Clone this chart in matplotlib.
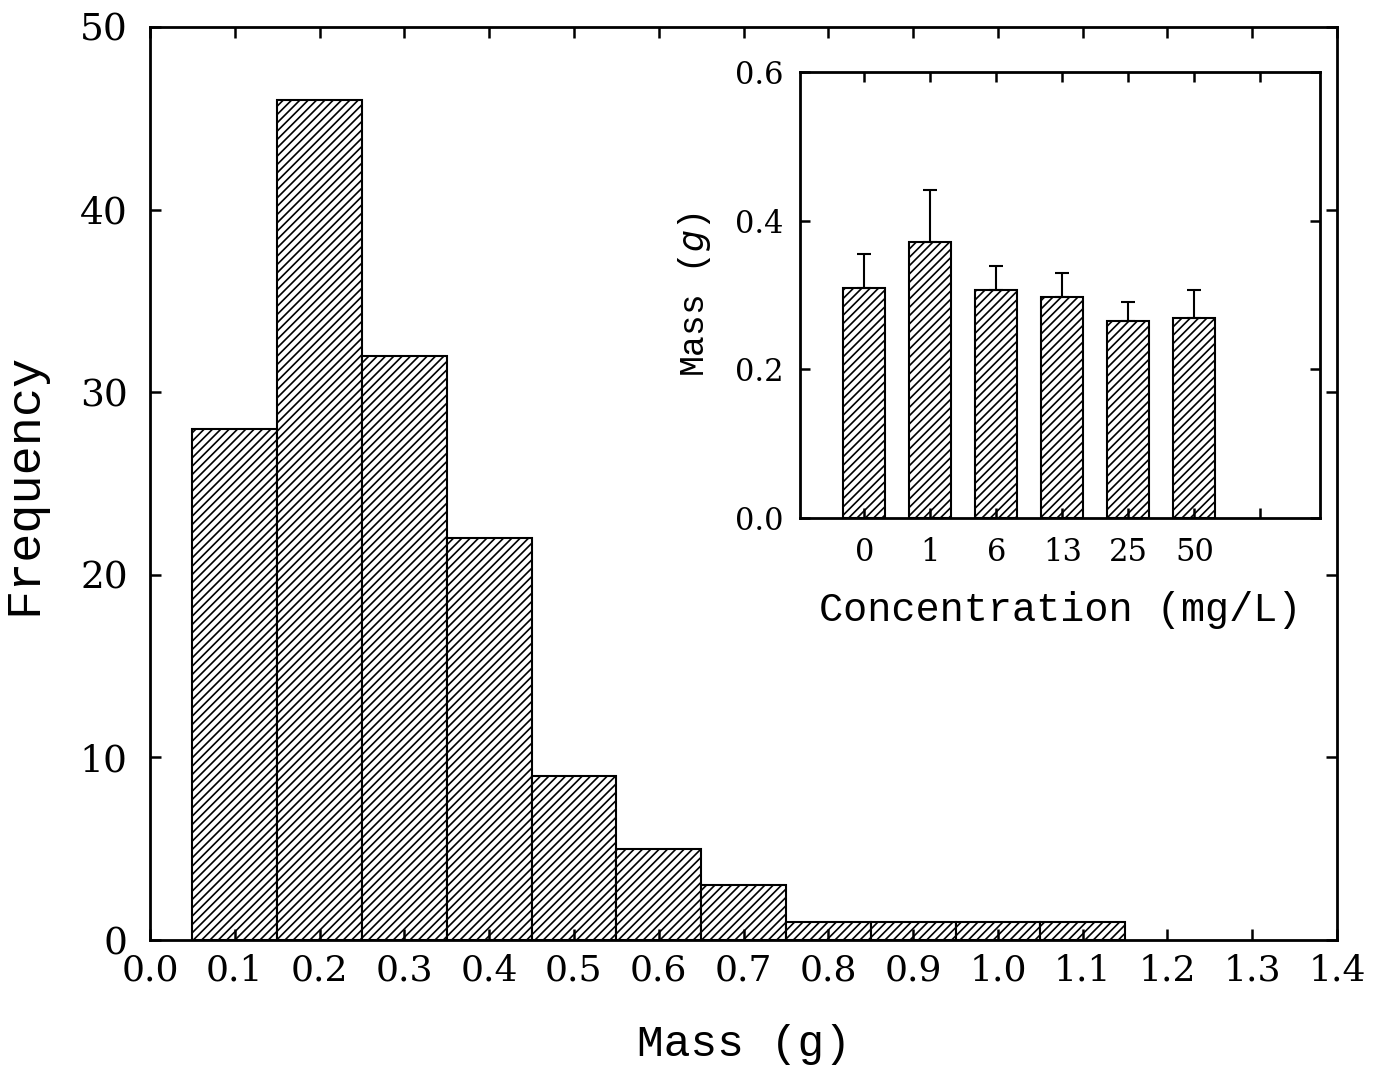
import matplotlib
matplotlib.use("Agg")
import matplotlib.pyplot as plt
import numpy as np

# Histogram data (main panel)
bin_centers = [0.1, 0.2, 0.3, 0.4, 0.5, 0.6, 0.7, 0.8, 0.9, 1.0, 1.1]
frequency = [28, 46, 32, 22, 9, 5, 3, 1, 1, 1, 1]
main_xticks = [0.0, 0.1, 0.2, 0.3, 0.4, 0.5, 0.6, 0.7, 0.8, 0.9, 1.0, 1.1, 1.2, 1.3, 1.4]
main_yticks = [0, 10, 20, 30, 40, 50]

# Inset data
conc_labels = ["0", "1", "6", "13", "25", "50"]
mass_mean = [0.310, 0.371, 0.307, 0.297, 0.265, 0.269]
mass_err = [0.045, 0.070, 0.032, 0.033, 0.026, 0.038]
inset_yticks = [0.0, 0.2, 0.4, 0.6]

plt.rcParams['hatch.linewidth'] = 1.2
tick_font = "DejaVu Serif"
label_font = "Liberation Mono"

fig = plt.figure(figsize=(13.82, 10.78), dpi=100)
ax = fig.add_axes([0.1085, 0.128, 0.859, 0.847])

ax.bar(bin_centers, frequency, width=0.1, facecolor='white', edgecolor='black',
       linewidth=1.5, hatch='////')
ax.set_xlim(0, 1.4)
ax.set_ylim(0, 50)
ax.set_xticks(main_xticks)
ax.set_xticklabels([f"{t:.1f}" for t in main_xticks], fontfamily=tick_font, fontsize=26)
ax.set_yticks(main_yticks)
ax.set_yticklabels([str(t) for t in main_yticks], fontfamily=tick_font, fontsize=27)
ax.tick_params(direction='in', length=8, width=1.8, top=True, right=True)
ax.tick_params(axis='x', pad=10)
ax.tick_params(axis='y', pad=16)
for s in ax.spines.values():
    s.set_linewidth(2.0)
ax.set_xlabel("Mass (g)", fontfamily=label_font, fontsize=32, labelpad=26)
ax.set_ylabel("Frequency", fontfamily=label_font, fontsize=35, labelpad=24)

# Inset
ax2 = fig.add_axes([0.579, 0.5195, 0.376, 0.4135])
xpos = np.arange(1, len(conc_labels) + 1)
ax2.bar(xpos, mass_mean, width=0.64, facecolor='white', edgecolor='black',
        linewidth=1.5, hatch='////')
ax2.errorbar(xpos, mass_mean, yerr=[np.zeros(len(mass_err)), mass_err], fmt='none',
             ecolor='black', elinewidth=1.5, capsize=5, capthick=1.5)
ax2.set_xlim(0.03, 7.9)
ax2.set_ylim(0, 0.6)
ax2.set_xticks(list(xpos) + [7])
ax2.set_xticklabels(conc_labels + [""], fontfamily=tick_font, fontsize=22)
ax2.set_yticks(inset_yticks)
ax2.set_yticklabels([f"{t:.1f}" for t in inset_yticks], fontfamily=tick_font, fontsize=22)
ax2.tick_params(direction='in', length=7, width=1.8, top=True, right=True)
ax2.tick_params(axis='x', pad=14)
ax2.tick_params(axis='y', pad=12)
for s in ax2.spines.values():
    s.set_linewidth(2.0)
ax2.set_xlabel("Concentration (mg/L)", fontfamily=label_font, fontsize=29, labelpad=16)
ax2.set_ylabel("Mass ($\\it{g}$)", fontfamily=label_font, fontsize=25, labelpad=16)

fig.savefig("out.png", dpi=100)
